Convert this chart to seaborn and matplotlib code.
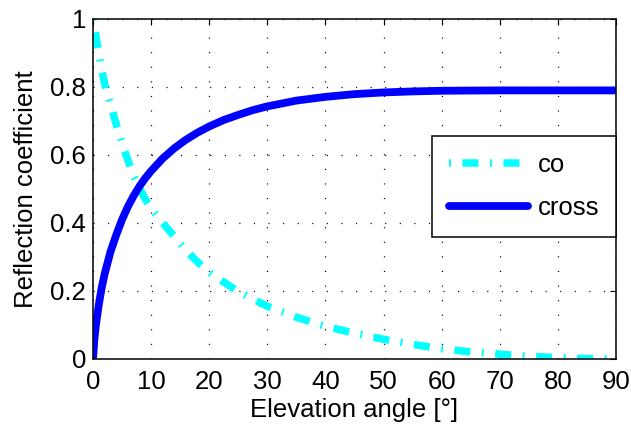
import matplotlib
matplotlib.use("Agg")
import matplotlib.pyplot as plt
import seaborn as sns
import pandas as pd

# Data
angle_co = [0, 0.5, 1, 1.5, 2, 3, 4, 5, 6, 7, 8, 9, 10, 12, 14, 16, 18, 20, 25, 30,
            35, 40, 45, 50, 55, 60, 65, 70, 75, 80, 85, 90]
co = [1.0, 0.95, 0.9, 0.85, 0.81, 0.75, 0.69, 0.635, 0.585, 0.54, 0.502, 0.47, 0.443,
      0.40, 0.36, 0.32, 0.285, 0.255, 0.198, 0.155, 0.123, 0.096, 0.076, 0.058,
      0.043, 0.030, 0.021, 0.014, 0.008, 0.004, 0.001, 0.0]
angle_cross = [0, 0.25, 0.5, 1, 1.5, 2, 3, 4, 5, 6, 7, 8, 9, 10, 12, 14, 16, 18, 20,
               22.5, 25, 27.5, 30, 35, 40, 45, 50, 55, 60, 70, 80, 90]
cross = [0.0, 0.06, 0.1, 0.16, 0.21, 0.25, 0.315, 0.365, 0.41, 0.448, 0.48, 0.508,
         0.532, 0.553, 0.59, 0.62, 0.645, 0.666, 0.684, 0.703, 0.718, 0.732, 0.743,
         0.76, 0.771, 0.779, 0.784, 0.787, 0.789, 0.79, 0.79, 0.79]
labels = ["co", "cross"]
x_ticks = [0, 10, 20, 30, 40, 50, 60, 70, 80, 90]
y_ticks = [0, 0.2, 0.4, 0.6, 0.8, 1]
y_tick_labels = ["0", "0.2", "0.4", "0.6", "0.8", "1"]

sns.set_style("white")
plt.rcParams["font.family"] = ["Liberation Sans", "DejaVu Sans"]
plt.rcParams["lines.scale_dashes"] = False
plt.rcParams["text.color"] = "black"
plt.rcParams["axes.labelcolor"] = "black"
FS = 18.5

fig = plt.figure(figsize=(6.31, 4.28), dpi=100)
ax = fig.add_axes([93 / 631, 1 - 359 / 428, 523 / 631, 340 / 428])

df_co = pd.DataFrame({"angle": angle_co, "value": co})
df_cross = pd.DataFrame({"angle": angle_cross, "value": cross})

sns.lineplot(data=df_co, x="angle", y="value", ax=ax, color="#00FFFF", lw=5.4,
             label=labels[0], sort=False)
sns.lineplot(data=df_cross, x="angle", y="value", ax=ax, color="#0000FF", lw=5.6,
             label=labels[1], sort=False)
ax.lines[0].set_linestyle((0, (1.4, 8.3, 11.5, 8.3)))
ax.lines[0].set_dash_capstyle("butt")

ax.set_xlim(0, 90)
ax.set_ylim(0, 1)
ax.set_xticks(x_ticks)
ax.set_yticks(y_ticks)
ax.set_yticklabels(y_tick_labels)
ax.tick_params(direction="in", length=4, width=0.8, top=True, right=True,
               labelsize=FS, pad=5, colors="black")
ax.tick_params(axis="x", pad=8)
ax.grid(True, color="black", linestyle=(0, (0.8, 9.7)), linewidth=0.9)
for s in ax.spines.values():
    s.set_color("black")
    s.set_linewidth(1.1)
ax.set_xlabel("Elevation angle [°]", fontsize=FS, labelpad=3, color="black")
ax.set_ylabel("Reflection coefficient", fontsize=FS, labelpad=9, color="black")

leg = ax.legend(loc="upper right", bbox_to_anchor=(1.0, 0.656), borderaxespad=0,
                fontsize=FS, handlelength=3.05, handletextpad=0.4,
                labelspacing=0.75, borderpad=0.65, fancybox=False, framealpha=1,
                edgecolor="black", labelcolor="black")
leg.get_frame().set_linewidth(1.1)

fig.savefig("out.png", dpi=100)
